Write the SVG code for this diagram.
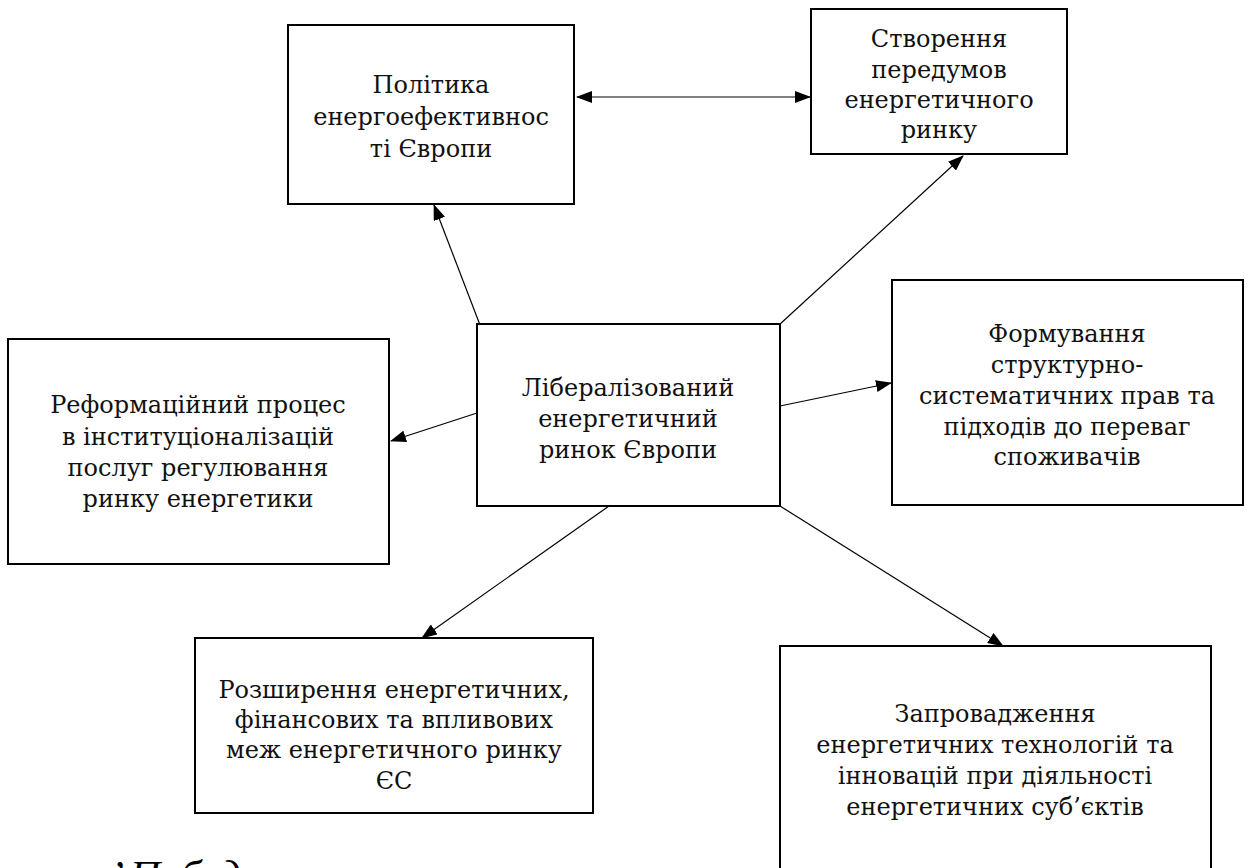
<svg xmlns="http://www.w3.org/2000/svg" width="1257" height="868" viewBox="0 0 1257 868">
<style>
.box{fill:#fff;stroke:#000;stroke-width:2}
.t{font-family:"DejaVu Serif","Liberation Serif",serif;font-size:24px;fill:#111;text-anchor:middle}
.c{stroke:#000;stroke-width:1.2;fill:none}
</style>
<defs>
<marker id="ah" markerWidth="16" markerHeight="12" refX="15" refY="6" orient="auto" markerUnits="userSpaceOnUse">
<path d="M0,0 L16,6 L0,12 Z" fill="#000"/>
</marker>
<marker id="as" markerWidth="16" markerHeight="12" refX="1" refY="6" orient="auto" markerUnits="userSpaceOnUse">
<path d="M16,0 L0,6 L16,12 Z" fill="#000"/>
</marker>
</defs>
<rect width="1257" height="868" fill="#fff"/>
<g id="n-polityka">
<rect class="box" x="288" y="25" width="286" height="179"/>
<text class="t" x="431" y="93">Політика</text>
<text class="t" x="431" y="125">енергоефективнос</text>
<text class="t" x="431" y="157">ті Європи</text>
</g>
<g id="n-stvorennia">
<rect class="box" x="811" y="9" width="256" height="145"/>
<text class="t" x="939" y="47">Створення</text>
<text class="t" x="939" y="78">передумов</text>
<text class="t" x="939" y="108">енергетичного</text>
<text class="t" x="939" y="138">ринку</text>
</g>
<g id="n-center">
<rect class="box" x="477" y="324" width="303" height="182"/>
<text class="t" x="628" y="396">Лібералізований</text>
<text class="t" x="628" y="427">енергетичний</text>
<text class="t" x="628" y="458">ринок Європи</text>
</g>
<g id="n-reform">
<rect class="box" x="8" y="339" width="381" height="225"/>
<text class="t" x="198" y="413">Реформаційний процес</text>
<text class="t" x="198" y="445">в інституціоналізацій</text>
<text class="t" x="198" y="476">послуг регулювання</text>
<text class="t" x="198" y="507">ринку енергетики</text>
</g>
<g id="n-formuvannia">
<rect class="box" x="892" y="280" width="351" height="225"/>
<text class="t" x="1067" y="342">Формування</text>
<text class="t" x="1067" y="373">структурно-</text>
<text class="t" x="1067" y="404">систематичних прав та</text>
<text class="t" x="1067" y="435">підходів до переваг</text>
<text class="t" x="1067" y="465">споживачів</text>
</g>
<g id="n-rozshyrennia">
<rect class="box" x="195" y="638" width="398" height="175"/>
<text class="t" x="394" y="698">Розширення енергетичних,</text>
<text class="t" x="394" y="728">фінансових та впливових</text>
<text class="t" x="394" y="758">меж енергетичного ринку</text>
<text class="t" x="394" y="789">ЄС</text>
</g>
<g id="n-zaprovadzhennia">
<rect class="box" x="780" y="646" width="431" height="240"/>
<text class="t" x="995" y="722">Запровадження</text>
<text class="t" x="995" y="753">енергетичних технологій та</text>
<text class="t" x="995" y="784">інновацій при діяльності</text>
<text class="t" x="995" y="815">енергетичних суб’єктів</text>
</g>
<g id="connectors">
<line class="c" x1="577" y1="97" x2="810" y2="97" marker-start="url(#as)" marker-end="url(#ah)"/>
<line class="c" x1="480" y1="325" x2="434" y2="205" marker-end="url(#ah)"/>
<line class="c" x1="779" y1="325" x2="963" y2="156" marker-end="url(#ah)"/>
<line class="c" x1="477" y1="413" x2="391" y2="441" marker-end="url(#ah)"/>
<line class="c" x1="780" y1="406" x2="891" y2="383" marker-end="url(#ah)"/>
<line class="c" x1="609" y1="506" x2="422" y2="638" marker-end="url(#ah)"/>
<line class="c" x1="780" y1="506" x2="1003" y2="646" marker-end="url(#ah)"/>
</g>
<text x="110" y="890" style="font-family:'Liberation Serif',serif;font-style:italic;font-size:42px;fill:#000">’ Побуд</text>
</svg>
